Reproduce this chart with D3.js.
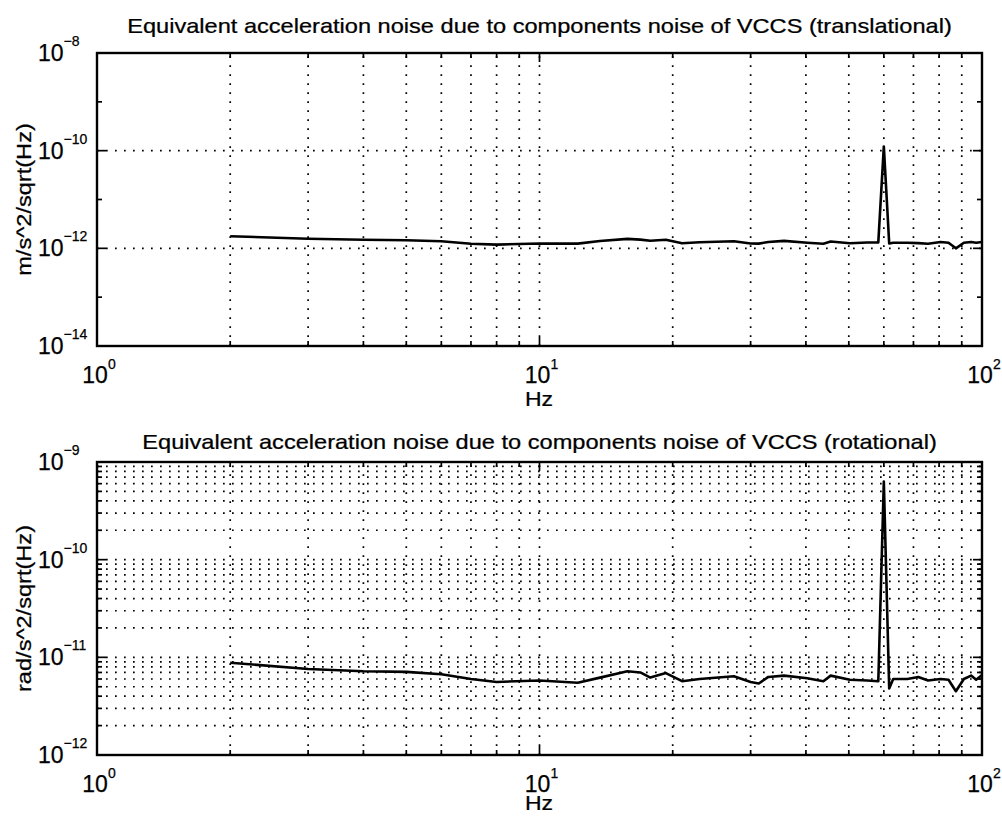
<!DOCTYPE html>
<html>
<head>
<meta charset="utf-8">
<script src="https://cdn.jsdelivr.net/npm/d3@7"></script>
<style>
  html, body { margin: 0; padding: 0; background: #fff; }
  svg { display: block; }
  text { font-family: "Liberation Sans", Arial, Helvetica, sans-serif; fill: #000; stroke: #000; stroke-width: 0.25px; }
</style>
</head>
<body>
<svg id="chart" width="1002" height="818"></svg>
<script>
// ---- data ----
const freqs = [2, 3, 4, 5, 6, 7, 8, 10, 12.2, 13.7, 15.8, 16.9, 17.8, 19.3,
  21, 23, 27.5, 30, 31.3, 32.9, 35.7, 40.3, 43.8, 45.5, 50.3, 55, 58.3, 60,
  61.7, 63, 67.8, 71.8, 75.5, 80.6, 84, 87.3, 91, 94.5, 97, 100];
const translational = [1.77e-12, 1.57e-12, 1.50e-12, 1.46e-12, 1.40e-12, 1.24e-12, 1.19e-12,
  1.26e-12, 1.25e-12, 1.41e-12, 1.56e-12, 1.51e-12, 1.43e-12, 1.50e-12,
  1.27e-12, 1.33e-12, 1.40e-12, 1.26e-12, 1.25e-12, 1.35e-12, 1.42e-12,
  1.30e-12, 1.24e-12, 1.38e-12, 1.27e-12, 1.32e-12, 1.32e-12, 1.22e-10,
  1.26e-12, 1.30e-12, 1.30e-12, 1.28e-12, 1.24e-12, 1.35e-12, 1.30e-12,
  1.00e-12, 1.30e-12, 1.35e-12, 1.30e-12, 1.35e-12];
const rotational = [8.8e-12, 7.6e-12, 7.2e-12, 7.1e-12, 6.7e-12, 6.0e-12, 5.6e-12,
  5.8e-12, 5.5e-12, 6.2e-12, 7.2e-12, 7.0e-12, 6.2e-12, 6.9e-12,
  5.7e-12, 6.0e-12, 6.4e-12, 5.6e-12, 5.4e-12, 6.3e-12, 6.5e-12,
  6.1e-12, 5.7e-12, 6.5e-12, 5.9e-12, 5.8e-12, 5.7e-12, 6.3e-10,
  4.8e-12, 6.0e-12, 6.0e-12, 6.3e-12, 5.8e-12, 6.0e-12, 5.9e-12,
  4.5e-12, 6.0e-12, 6.5e-12, 5.9e-12, 6.6e-12];

const xDomain = [1, 100];
const xTickExps = [0, 1, 2];
const topTitle = "Equivalent acceleration noise due to components noise of VCCS (translational)";
const botTitle = "Equivalent acceleration noise due to components noise of VCCS (rotational)";
const topYLabel = "m/s^2/sqrt(Hz)";
const botYLabel = "rad/s^2/sqrt(Hz)";
const xLabel = "Hz";
const topYDomain = [1e-14, 1e-8];
const topYTickExps = [-8, -10, -12, -14];
const botYDomain = [1e-12, 1e-9];
const botYTickExps = [-9, -10, -11, -12];

// ---- drawing ----
const svg = d3.select("#chart");
const L = 97, R = 982;
const panels = [
  { top: 53, bottom: 346, yDomain: topYDomain, tickExps: topYTickExps, data: translational,
    title: topTitle, titleY: 33, ylabel: topYLabel, minorY: false, xlabOff: 60 },
  { top: 462, bottom: 755, yDomain: botYDomain, tickExps: botYTickExps, data: rotational,
    title: botTitle, titleY: 449, ylabel: botYLabel, minorY: true, xlabOff: 55 }
];

function stretched(g, x, y, str, size, k, rot, anchor) {
  return g.append("text")
    .attr("transform", `translate(${x},${y}) rotate(${rot}) scale(${k},1)`)
    .attr("text-anchor", anchor)
    .style("font-size", size + "px")
    .text(str);
}

const minus = "\u2212";
function expStr(e) { return e < 0 ? minus + Math.abs(e) : String(e); }

panels.forEach(p => {
  const g = svg.append("g");
  const x = d3.scaleLog().domain(xDomain).range([L, R]);
  const y = d3.scaleLog().domain(p.yDomain).range([p.bottom, p.top]);

  const xVals = [];
  for (let d = 0; d < 2; d++) for (let k = 1; k <= 9; k++) xVals.push(k * Math.pow(10, d));
  xVals.push(100);

  const eLo = Math.round(Math.log10(p.yDomain[0])), eHi = Math.round(Math.log10(p.yDomain[1]));
  const yMajor = [], yMinor = [];
  if (p.minorY) {
    for (let e = eLo; e < eHi; e++) {
      yMajor.push(Math.pow(10, e));
      for (let k = 2; k <= 9; k++) yMinor.push(k * Math.pow(10, e));
    }
    yMajor.push(Math.pow(10, eHi));
  } else {
    for (let e = eLo; e <= eHi; e++) {
      const v = Math.pow(10, e);
      if (p.tickExps.includes(e)) yMajor.push(v); else yMinor.push(v);
    }
  }

  const grid = g.append("g").attr("stroke", "#000").attr("stroke-width", 1.7)
    .attr("stroke-dasharray", "1.7,7.3").attr("fill", "none");
  xVals.filter(v => v > 1 && v < 100).forEach(v => {
    grid.append("line").attr("x1", x(v)).attr("x2", x(v))
      .attr("y1", p.bottom).attr("y2", p.top);
  });
  const hGrid = p.minorY ? yMajor.concat(yMinor) : yMajor;
  hGrid.filter(v => v > p.yDomain[0] && v < p.yDomain[1]).forEach(v => {
    grid.append("line").attr("x1", L).attr("x2", R)
      .attr("y1", y(v)).attr("y2", y(v));
  });

  const ticks = g.append("g").attr("stroke", "#000").attr("stroke-width", 1.7);
  xVals.forEach(v => {
    const len = (v === 1 || v === 10 || v === 100) ? 9 : 5;
    ticks.append("line").attr("x1", x(v)).attr("x2", x(v)).attr("y1", p.bottom).attr("y2", p.bottom - len);
    ticks.append("line").attr("x1", x(v)).attr("x2", x(v)).attr("y1", p.top).attr("y2", p.top + len);
  });
  yMajor.forEach(v => {
    ticks.append("line").attr("x1", L).attr("x2", L + 9).attr("y1", y(v)).attr("y2", y(v));
    ticks.append("line").attr("x1", R).attr("x2", R - 9).attr("y1", y(v)).attr("y2", y(v));
  });
  yMinor.forEach(v => {
    ticks.append("line").attr("x1", L).attr("x2", L + 5).attr("y1", y(v)).attr("y2", y(v));
    ticks.append("line").attr("x1", R).attr("x2", R - 5).attr("y1", y(v)).attr("y2", y(v));
  });

  const line = d3.line().x((d, i) => x(freqs[i])).y(d => y(d));
  g.append("path").datum(p.data).attr("d", line)
    .attr("fill", "none").attr("stroke", "#000").attr("stroke-width", 2.6)
    .attr("stroke-linejoin", "round");

  g.append("rect").attr("x", L).attr("y", p.top).attr("width", R - L).attr("height", p.bottom - p.top)
    .attr("fill", "none").attr("stroke", "#000").attr("stroke-width", 2.4);

  p.tickExps.forEach(e => {
    const t = g.append("text").attr("x", 38).attr("y", y(Math.pow(10, e)) + 8)
      .style("font-size", "23px");
    t.append("tspan").text("10");
    t.append("tspan").attr("dy", -15).style("font-size", "14px").text(expStr(e));
  });
  xTickExps.forEach(e => {
    const t = g.append("text").attr("x", x(Math.pow(10, e)) + 2).attr("y", p.bottom + 37)
      .attr("text-anchor", "middle").style("font-size", "23px");
    t.append("tspan").text("10");
    t.append("tspan").attr("dy", -14).style("font-size", "14px").text(expStr(e));
  });

  stretched(g, (L + R) / 2, p.titleY, p.title, 20, 1.18, 0, "middle");
  stretched(g, 539, p.bottom + p.xlabOff, xLabel, 20, 1.15, 0, "middle");
  stretched(g, 31, (p.top + p.bottom) / 2, p.ylabel, 20, 1.18, -90, "middle");
});
</script>
</body>
</html>
